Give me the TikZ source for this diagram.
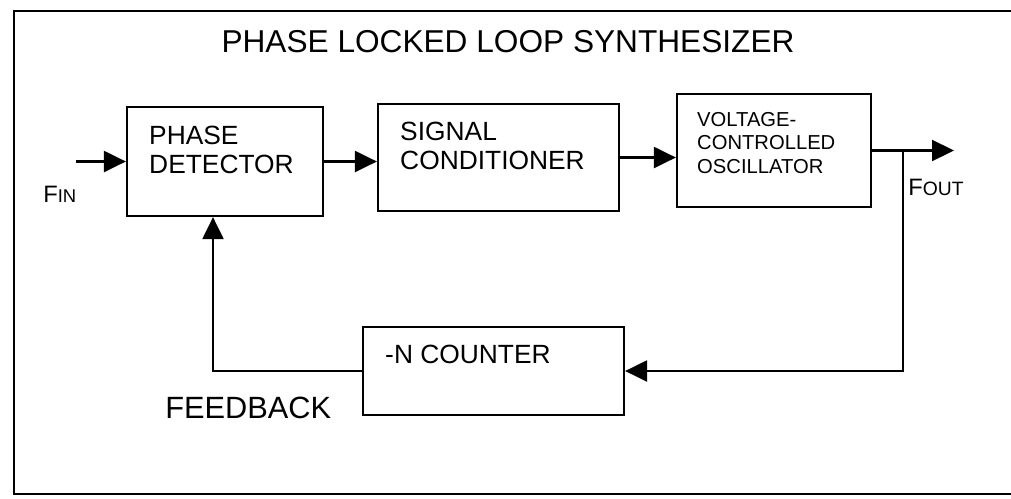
\documentclass[tikz,border=0pt]{standalone}
\usepackage{fontspec}
\setmainfont{Liberation Sans}
\usetikzlibrary{arrows.meta,calc,positioning}
\tikzset{
  blk/.style={draw,line width=1.3pt,inner sep=0pt},
  pfeil/.style={-{Triangle[length=4.4mm,width=4.2mm]},line width=1.3pt},
  linie/.style={line width=1.3pt},
  txt/.style={anchor=north west,inner sep=0pt,align=left,font=\fontsize{15}{16.4}\selectfont},
  lbl/.style={anchor=base west,inner sep=0pt},
}

\begin{document}
\begin{tikzpicture}[x=0.02cm,y=-0.02cm]
  \useasboundingbox (0,0) rectangle (1011,498);
  \draw[linie] (1011,11) -- (14,11) -- (14,494) -- (1011,494);
  \node[anchor=base,inner sep=0pt,font=\fontsize{18}{20}\selectfont] (titel) at (508,52) {PHASE LOCKED LOOP SYNTHESIZER};
  \node[blk,minimum width=3.92cm,minimum height=2.18cm] (pd) at (225,161.5) {};
  \node[blk,minimum width=4.82cm,minimum height=2.14cm] (sc) at (498.5,157.5) {};
  \node[blk,minimum width=3.88cm,minimum height=2.26cm] (vco) at (774,150.5) {};
  \node[blk,minimum width=5.22cm,minimum height=1.76cm] (cnt) at (493.5,371) {};
  \node[txt] (pdtxt) at ($(pd.north west)+(23,20)$) {PHASE\\DETECTOR};
  \node[txt] (sctxt) at ($(sc.north west)+(23,19)$) {SIGNAL\\CONDITIONER};
  \node[txt,font=\fontsize{11.5}{13.3}\selectfont] (vcotxt) at ($(vco.north west)+(21,19)$) {VOLTAGE-\\CONTROLLED\\OSCILLATOR};
  \node[txt] (cnttxt) at ($(cnt.north west)+(23,19)$) {-N COUNTER};
  \coordinate (fin) at (76,161.5);
  \coordinate (fout) at (954,150.5);
  \coordinate (abzw) at (903,150.5);
  \draw[pfeil] (fin) -- (pd.west);
  \draw[pfeil] (pd.east) -- (pd.east -| sc.west);
  \draw[pfeil] (sc.east) -- (sc.east -| vco.west);
  \draw[pfeil] (vco.east) -- (fout);
  \draw[pfeil] (abzw) |- (cnt.east);
  \draw[pfeil] (cnt.west) -| ([xshift=-0.24cm]pd.south);
  \node[lbl,font=\fontsize{13.5}{14}\selectfont] (fintxt) at (43,202) {F{\fontsize{10.5}{11}\selectfont IN}};
  \node[lbl,font=\fontsize{13.5}{14}\selectfont] (fouttxt) at (908,195) {F{\fontsize{11}{11}\selectfont OUT}};
  \node[lbl,font=\fontsize{17.5}{18}\selectfont] (fb) at (165,418) {FEEDBACK};
\end{tikzpicture}
\end{document}
